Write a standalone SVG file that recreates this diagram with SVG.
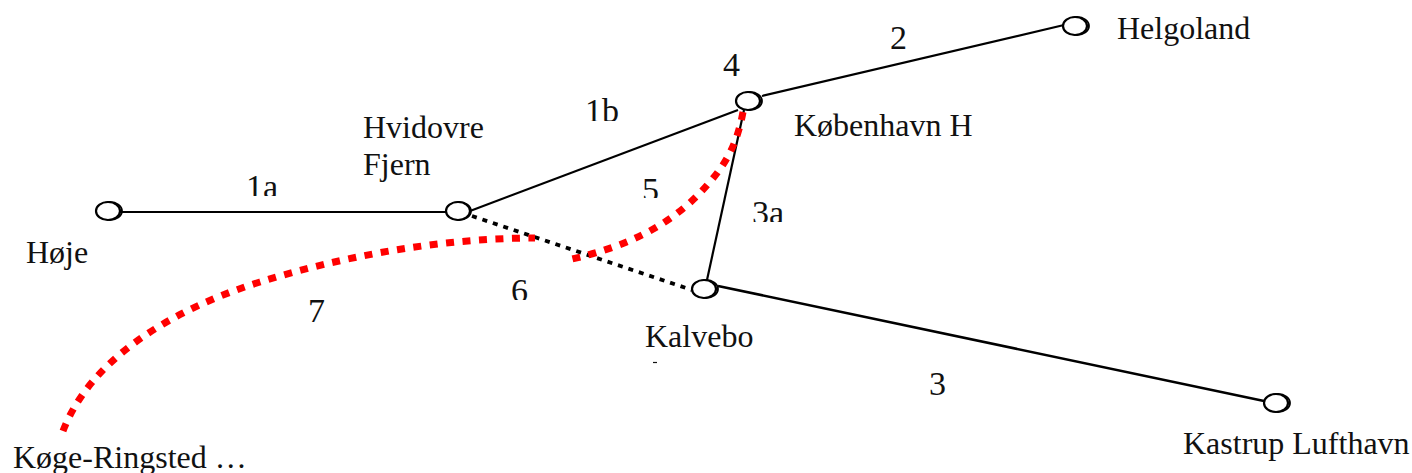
<svg xmlns="http://www.w3.org/2000/svg" width="1412" height="473" viewBox="0 0 1412 473">
<style>
text{font-family:"Liberation Serif","Times New Roman",serif;font-size:32px;fill:#111}
.n{font-size:34px}
.s{fill:none;stroke:#000;stroke-width:2.2}
.o{fill:#fff;stroke:#000;stroke-width:2.2}
.b{fill:none;stroke:#000;stroke-width:1.8}
.r{fill:none;stroke:#f00;stroke-width:7;stroke-dasharray:8 8.5}
</style>
<defs>
<clipPath id="c1a"><rect x="240" y="160" width="50" height="36"/></clipPath>
<clipPath id="c1b"><rect x="580" y="90" width="50" height="31"/></clipPath>
<clipPath id="c5"><rect x="635" y="165" width="30" height="33"/></clipPath>
<clipPath id="c3a"><rect x="745" y="190" width="50" height="32"/></clipPath>
<clipPath id="c6"><rect x="505" y="270" width="30" height="30"/></clipPath>
<clipPath id="c3"><rect x="925" y="365" width="30" height="30"/></clipPath>
</defs>
<g id="connectors">
<path class="s" d="M120 212H446"/>
<path class="s" d="M470 211L738 110"/>
<path class="s" d="M762 96L1064 25"/>
<path class="s" d="M744 110L707 280"/>
<path class="s" style="stroke-width:2.6" d="M718 286L1264 401"/>
<path d="M472 216L692 290" fill="none" stroke="#000" stroke-width="3.8" stroke-dasharray="5 6"/>
<path class="r" d="M743 112C736 150 722 170 698 195C665 228 625 247 568 260"/>
<path class="r" d="M63 431C90 360 170 310 260 282C340 257 440 238 535 238"/>
</g>
<g id="hoje"><ellipse class="b" cx="110" cy="211" rx="12" ry="9"/><ellipse class="o" cx="108" cy="211" rx="12" ry="9"/><text x="26" y="263">Høje</text></g>
<g id="hvidovre"><ellipse class="b" cx="459" cy="211" rx="12" ry="9"/><ellipse class="o" cx="458" cy="211" rx="12" ry="9"/><text x="363" y="138">Hvidovre</text><text x="363" y="175">Fjern</text></g>
<g id="kobenhavn"><ellipse class="b" cx="750" cy="101" rx="12" ry="9"/><ellipse class="o" cx="748" cy="101" rx="12" ry="9"/><text x="794" y="136">København H</text></g>
<g id="helgoland"><ellipse class="b" cx="1077" cy="26" rx="12" ry="9"/><ellipse class="o" cx="1075" cy="26" rx="12" ry="9"/><text x="1117" y="39">Helgoland</text></g>
<g id="kalvebo"><ellipse class="b" cx="706" cy="289" rx="12" ry="9"/><ellipse class="o" cx="704" cy="289" rx="12" ry="9"/><text x="645" y="347">Kalvebo</text><path d="M653 362.500H657" stroke="#111" stroke-width="1.200"/></g>
<g id="kastrup"><ellipse class="b" cx="1278" cy="403" rx="12" ry="9"/><ellipse class="o" cx="1276" cy="403" rx="12" ry="9"/><text x="1183" y="454">Kastrup Lufthavn</text></g>
<g id="koge"><text x="13" y="468">Køge-Ringsted …</text></g>
<g id="labels">
<text class="n" x="246" y="198" clip-path="url(#c1a)">1a</text>
<text class="n" x="585" y="122" clip-path="url(#c1b)">1b</text>
<text class="n" x="890" y="49">2</text>
<text class="n" x="723" y="76">4</text>
<text class="n" x="642" y="201" clip-path="url(#c5)">5</text>
<text class="n" x="752" y="224" clip-path="url(#c3a)">3a</text>
<text class="n" x="511" y="302" clip-path="url(#c6)">6</text>
<text class="n" x="308" y="322">7</text>
<text class="n" x="929" y="395" clip-path="url(#c3)">3</text>
</g>
</svg>
